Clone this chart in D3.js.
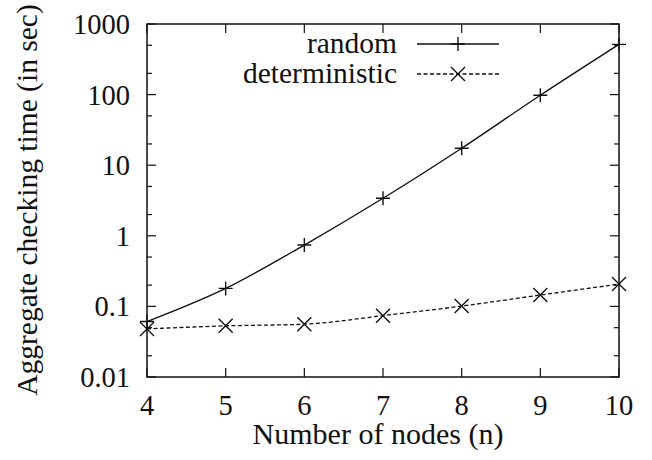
<!DOCTYPE html>
<html>
<head>
<meta charset="utf-8">
<script src="https://cdn.jsdelivr.net/npm/d3@7"></script>
<style>
  body { margin: 0; background: #fff; }
</style>
</head>
<body>
<svg width="652" height="460"></svg>
<script>
const nodes = [4, 5, 6, 7, 8, 9, 10];
const randomTime = [0.061, 0.18, 0.74, 3.4, 17.4, 98, 515];
const deterministicTime = [0.048, 0.053, 0.056, 0.074, 0.101, 0.145, 0.207];
const yTicks = [0.01, 0.1, 1, 10, 100, 1000];
const yTickLabels = ['0.01', '0.1', '1', '10', '100', '1000'];

const FONT = "'Liberation Serif', 'Times New Roman', Times, 'DejaVu Serif', serif";

const svg = d3.select('svg')
  .attr('font-family', FONT)
  .style('font-family', FONT);
const plotL = 147, plotR = 619, plotT = 24, plotB = 377;

const x = d3.scaleLinear().domain([4, 10]).range([plotL, plotR]);
const y = d3.scaleLog().domain([0.01, 1000]).range([plotB, plotT]);

// minor ticks at 2 and 5 of each decade
const minor = [];
yTicks.slice(0, -1).forEach(d => { minor.push(d * 2, d * 5); });

const g = svg.append('g').attr('stroke', '#111').attr('stroke-width', 1.2);

// ticks, pointing inward, mirrored on both sides
yTicks.forEach(d => {
  g.append('line').attr('x1', plotL).attr('x2', plotL + 9).attr('y1', y(d)).attr('y2', y(d));
  g.append('line').attr('x1', plotR).attr('x2', plotR - 9).attr('y1', y(d)).attr('y2', y(d));
});
minor.forEach(d => {
  g.append('line').attr('x1', plotL).attr('x2', plotL + 5).attr('y1', y(d)).attr('y2', y(d));
  g.append('line').attr('x1', plotR).attr('x2', plotR - 5).attr('y1', y(d)).attr('y2', y(d));
});
nodes.forEach(d => {
  g.append('line').attr('x1', x(d)).attr('x2', x(d)).attr('y1', plotB).attr('y2', plotB - 9);
  g.append('line').attr('x1', x(d)).attr('x2', x(d)).attr('y1', plotT).attr('y2', plotT + 9);
});

// frame
svg.append('rect')
  .attr('x', plotL).attr('y', plotT)
  .attr('width', plotR - plotL).attr('height', plotB - plotT)
  .attr('fill', 'none').attr('stroke', '#111').attr('stroke-width', 1.5);

const txt = (x0, y0, s, size, anchor) => svg.append('text')
  .attr('x', x0).attr('y', y0)
  .attr('text-anchor', anchor)
  .attr('font-size', size)
  .style('font-family', FONT)
  .attr('fill', '#111')
  .text(s);

// tick labels
yTicks.forEach((d, i) => txt(130, y(d) + 10, yTickLabels[i], 28.5, 'end'));
nodes.forEach(d => txt(x(d), 415, d, 28.5, 'middle'));

// axis titles
txt(378, 444, 'Number of nodes (n)', 30, 'middle');
txt(0, 0, 'Aggregate checking time (in sec)', 29.5, 'middle')
  .attr('transform', 'translate(37,200) rotate(-90)');

// series
const line = d3.line()
  .x((d, i) => x(nodes[i]))
  .y(d => y(d))
  .curve(d3.curveMonotoneX);

const plus = (sel, cx, cy) => sel.append('path')
  .attr('d', `M${cx - 7},${cy}H${cx + 7}M${cx},${cy - 7}V${cy + 7}`)
  .attr('stroke', '#111').attr('stroke-width', 1.4).attr('fill', 'none');
const cross = (sel, cx, cy) => sel.append('path')
  .attr('d', `M${cx - 7},${cy - 7}L${cx + 7},${cy + 7}M${cx - 7},${cy + 7}L${cx + 7},${cy - 7}`)
  .attr('stroke', '#111').attr('stroke-width', 1.4).attr('fill', 'none');

svg.append('path').datum(randomTime)
  .attr('d', line).attr('fill', 'none')
  .attr('stroke', '#111').attr('stroke-width', 1.4);
randomTime.forEach((d, i) => plus(svg, x(nodes[i]), y(d)));

svg.append('path').datum(deterministicTime)
  .attr('d', line).attr('fill', 'none')
  .attr('stroke', '#111').attr('stroke-width', 1.3)
  .attr('stroke-dasharray', '4,2.5');
deterministicTime.forEach((d, i) => cross(svg, x(nodes[i]), y(d)));

// legend
const legend = [
  {name: 'random', y: 44, dash: null, mark: plus},
  {name: 'deterministic', y: 74, dash: '4,2.5', mark: cross}
];
legend.forEach(l => {
  txt(397, l.y + 9, l.name, 29.5, 'end');
  svg.append('line')
    .attr('x1', 417).attr('x2', 499).attr('y1', l.y).attr('y2', l.y)
    .attr('stroke', '#111').attr('stroke-width', 1.3)
    .attr('stroke-dasharray', l.dash);
  l.mark(svg, 458, l.y);
});
</script>
</body>
</html>
